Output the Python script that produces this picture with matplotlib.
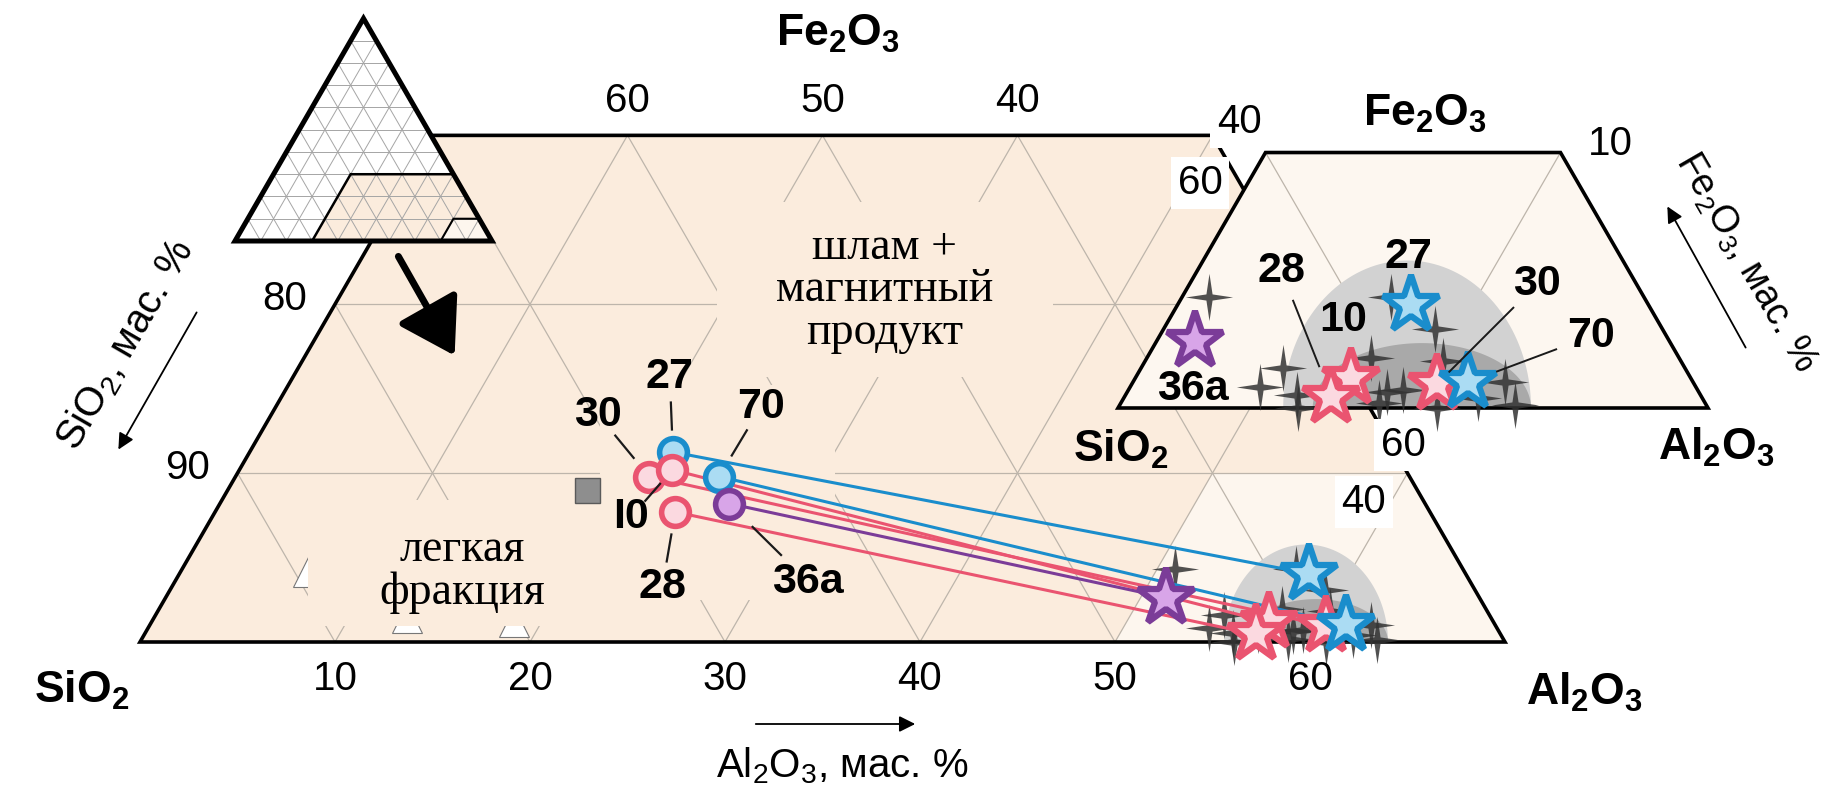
import matplotlib.pyplot as plt
import numpy as np
from matplotlib.patches import Polygon, Rectangle

plt.rcParams['font.family'] = ['Liberation Sans', 'DejaVu Sans']
plt.rcParams['mathtext.default'] = 'regular'

# samples, wt.% (SiO2 = 100 - Al2O3 - Fe2O3)
names = ['27', '30', '10', '70', '36a', '28']
main_names = ['27', '30', 'I0', '70', '36a', '28']
kinds = ['blue', 'pink', 'pink', 'blue', 'purple', 'pink']
# light-coloured circles: heavy product
circ_al = [21.7, 21.2, 22.2, 24.8, 26.1, 23.6]
circ_fe = [11.25, 9.8, 10.2, 9.8, 8.2, 7.7]
# stars: slime + magnetic product
star_al = [57.9, 60.35, 57.3, 61.35, 51.3, 57.0]
star_fe = [4.05, 0.95, 1.17, 1.0, 2.63, 0.45]
# grey crosses: other samples
cross_al = [50.9, 54.8, 54.4, 55.8, 57.6, 57.1, 59.2, 60.1, 58.8, 59.3,
            62.6, 62.0, 63.4, 57.0, 56.1, 60.8, 58.75]
cross_fe = [4.34, 1.57, 0.82, 0.51, 1.96, 4.34, 3.09, 1.84, 0.63, 0.70,
            1.02, 0.39, 0.12, 0.70, 0.0, 0.0, 0.2]
# grey square and light fraction (white triangles)
sq_al, sq_fe = [18.4], [9.0]
lf_al = [6.55, 13.0, 18.6]
lf_fe = [4.14, 1.42, 1.18]
# grey fields: centre, half width, height (in triangle units)
dome_u = [59.8, 60.3]
dome_w = [4.2, 3.7]
dome_h = [5.0, 2.2]
dome_c = ['#d2d2d2', '#a9a9a9']

bot_ticks = [10, 20, 30, 40, 50, 60]
top_ticks = [60, 50, 40]
left_ticks = [80, 90]

edge = {'blue': '#1a8dcc', 'pink': '#ea5470', 'purple': '#7b3c98'}
face = {'blue': '#abdcf3', 'pink': '#fbd9e0', 'purple': '#d8a5e8'}
PEACH = '#fbecdd'
LIGHT = '#fdf6ee'
GRID = '#bdb5ab'
NUM = 29     # tick numbers
LAB = 31     # bold sample labels
TIT = 32     # oxide names

S3 = np.sqrt(3) / 2
MAIN = dict(x0=140, y0=642, L=1950, a0=0)
INS = dict(x0=1118, y0=408, L=2950, a0=50)
MINI = dict(x0=235, y0=241, L=257, a0=0)


def tern(a, f, x0, y0, L, a0):
    a = np.asarray(a, float)
    f = np.asarray(f, float)
    return x0 + L / 100 * (a - a0 + f / 2), y0 - L / 100 * S3 * f


fig = plt.figure(figsize=(18.32, 7.92), dpi=100)
ax = fig.add_axes([0, 0, 1, 1])
ax.set_xlim(0, 1832)
ax.set_ylim(792, 0)
ax.axis('off')


def poly(pts, sys, **kw):
    a, f = zip(*pts)
    x, y = tern(a, f, **sys)
    ax.add_patch(Polygon(np.column_stack([x, y]), closed=True, **kw))


def seg(p, q, sys, **kw):
    x, y = tern([p[0], q[0]], [p[1], q[1]], **sys)
    ax.plot(x, y, solid_capstyle='butt', **kw)


def domes(sys, z):
    t = np.linspace(0, np.pi, 80)
    for u, w, h, c in zip(dome_u, dome_w, dome_h, dome_c):
        uu = u + w * np.cos(t)
        f = h * np.sin(t) / S3
        poly(list(zip(uu - f / 2, f)), sys, facecolor=c, edgecolor='none', zorder=z)


cross = [(0, 1), (0.13, 0.13), (1, 0), (0.13, -0.13), (0, -1), (-0.13, -0.13), (-1, 0),
         (-0.13, 0.13), (0, 1)]


def crosses(sys, z):
    x, y = tern(cross_al, cross_fe, **sys)
    ax.plot(x, y, ls='none', marker=cross, ms=34, mfc='#333333', mec='none', alpha=0.85, zorder=z)


def stars(sys, z):
    x, y = tern(star_al, star_fe, **sys)
    for xi, yi, k in zip(x, y, kinds):
        ax.plot(xi, yi, marker='*', ms=43, mfc=face[k], mec=edge[k], mew=4.5, zorder=z)
    return x, y


# ---------------- main diagram ----------------
poly([(0, 0), (0, 30), (40, 30), (70, 0)], MAIN, facecolor=PEACH, edgecolor='none', zorder=1)
poly([(50, 0), (50, 10), (60, 10), (70, 0)], MAIN, facecolor=LIGHT, edgecolor='none', zorder=1.1)
gk = dict(color=GRID, lw=0.9, zorder=1.5)
seg((0, 10), (60, 10), MAIN, **gk)
seg((0, 20), (50, 20), MAIN, **gk)
for k in range(10, 70, 10):
    seg((k, 0), (k, min(30, 70 - k)), MAIN, **gk)
for s in range(40, 100, 10):
    ft = min(30, 100 - s)
    seg((100 - s, 0), (100 - s - ft, ft), MAIN, **gk)

x, y = tern(lf_al, lf_fe, **MAIN)
ax.plot(x, y, ls='none', marker='^', ms=22, mfc='white', mec='#777777', mew=0.8, zorder=1.8)

# background patches under the text blocks
for rx, ry, rw, rh in [(717, 202, 336, 175), (308, 500, 310, 126), (600, 385, 235, 215)]:
    ax.add_patch(Rectangle((rx, ry), rw, rh, facecolor=PEACH, edgecolor='none', zorder=2))

domes(MAIN, 2.05)
poly([(0, 0), (0, 30), (40, 30), (70, 0)], MAIN, fill=False, edgecolor='black', lw=2.6,
     joinstyle='miter', zorder=2.1)
crosses(MAIN, 2.4)

cx, cy = tern(circ_al, circ_fe, **MAIN)
sx, sy = tern(star_al, star_fe, **MAIN)
for i, k in enumerate(kinds):
    ax.plot([cx[i], sx[i]], [cy[i], sy[i]], color=edge[k], lw=2.2, zorder=2.6)
stars(MAIN, 3)
for i, k in enumerate(kinds):
    ax.plot(cx[i], cy[i], 'o', ms=20, mfc=face[k], mec=edge[k], mew=4, zorder=3)
x, y = tern(sq_al, sq_fe, **MAIN)
ax.plot(x, y, 's', ms=18, mfc='#8e8e8e', mec='#5a5a5a', mew=1, zorder=3)

main_off = {'27': (-3, -75), '30': (-51, -62), 'I0': (-41, 47), '70': (42, -70),
            '36a': (79, 78), '28': (-13, 75)}
for i, n in enumerate(main_names):
    dx, dy = main_off[n]
    ax.plot([cx[i] + 0.3 * dx, cx[i] + 0.66 * dx], [cy[i] + 0.3 * dy, cy[i] + 0.66 * dy],
            color='#1a1a1a', lw=1.6, zorder=3.1)
    ax.text(cx[i] + dx, cy[i] + dy, n, fontsize=LAB, fontweight='bold', ha='center',
            va='center', zorder=3.2)

ax.text(885, 290, 'шлам +\nмагнитный\nпродукт', family='Liberation Serif', fontsize=33,
        ha='center', va='center', linespacing=1.0, zorder=3.2)
ax.text(462, 571, 'легкая\nфракция', family='Liberation Serif', fontsize=33,
        ha='center', va='center', linespacing=1.0, zorder=3.2)

for t in bot_ticks:
    x, y = tern(t, 0, **MAIN)
    ax.text(x, y + 37, str(t), fontsize=NUM, ha='center', va='center')
for t in top_ticks:
    x, y = tern(100 - t - 30, 30, **MAIN)
    ax.text(x, y - 34, str(t), fontsize=NUM, ha='center', va='center')
for t in left_ticks:
    x, y = tern(0, 100 - t, **MAIN)
    ax.text(x - 50, y - 5, str(t), fontsize=NUM, ha='center', va='center')
ax.text(1239, 122, '40', fontsize=NUM, ha='center', va='center', zorder=6,
        bbox=dict(facecolor='white', edgecolor='none', pad=5))

ax.text(838, 34, 'Fe$_2$O$_3$', fontsize=TIT, fontweight='bold', ha='center', va='center')
ax.text(82, 690, 'SiO$_2$', fontsize=TIT, fontweight='bold', ha='center', va='center')
ax.text(1584, 692, 'Al$_2$O$_3$', fontsize=TIT, fontweight='bold', ha='center', va='center')

ak = dict(arrowstyle='-|>', lw=1.3, color='black', mutation_scale=24)
ax.annotate('', xy=(918, 724), xytext=(753, 724), arrowprops=ak)
ax.text(842, 766, 'Al$_2$O$_3$, мас. %', fontsize=29, ha='center', va='center')
ax.annotate('', xy=(117, 452), xytext=(198, 310), arrowprops=ak)
ax.text(125, 345, 'SiO$_2$, мас. %', fontsize=29, ha='center', va='center', rotation=60,
        rotation_mode='anchor')
ax.annotate('', xy=(1666, 204), xytext=(1747, 350), arrowprops=ak)
ax.text(1746, 262, 'Fe$_2$O$_3$, мас. %', fontsize=27, ha='center', va='center', rotation=-60,
        rotation_mode='anchor')

# ---------------- enlarged inset ----------------
poly([(50, 0), (50, 10), (60, 10), (70, 0)], INS, facecolor='#fdf7f0', edgecolor='none', zorder=4)
seg((60, 0), (50, 10), INS, color=GRID, lw=0.9, zorder=4.1)
seg((60, 0), (60, 10), INS, color=GRID, lw=0.9, zorder=4.1)
domes(INS, 4.2)
poly([(50, 0), (50, 10), (60, 10), (70, 0)], INS, fill=False, edgecolor='black', lw=2.6,
     joinstyle='miter', zorder=4.3)
crosses(INS, 4.4)
ix, iy = stars(INS, 4.6)

ins_off = {'27': (-2, -48, None), '10': (-7, -58, None), '28': (-50, -126, (0.24, 0.76)),
           '30': (100, -100, (0.12, 0.76)), '70': (123, -46, (0.24, 0.72)), '36a': (-2, 48, None)}
for i, n in enumerate(names):
    dx, dy, ld = ins_off[n]
    if ld:
        ax.plot([ix[i] + ld[0] * dx, ix[i] + ld[1] * dx], [iy[i] + ld[0] * dy, iy[i] + ld[1] * dy],
                color='#1a1a1a', lw=1.4, zorder=4.7)
    ax.text(ix[i] + dx, iy[i] + dy, n, fontsize=LAB, fontweight='bold', ha='center',
            va='center', zorder=5)

ax.text(1425, 114, 'Fe$_2$O$_3$', fontsize=TIT, fontweight='bold', ha='center', va='center')
ax.text(1121, 449, 'SiO$_2$', fontsize=TIT, fontweight='bold', ha='center', va='center', zorder=6)
ax.text(1716, 447, 'Al$_2$O$_3$', fontsize=TIT, fontweight='bold', ha='center', va='center')
ax.text(1610, 144, '10', fontsize=NUM, ha='center', va='center')
wb = dict(facecolor='white', edgecolor='none', pad=5)
ax.text(1200, 183, '60', fontsize=NUM, ha='center', va='center', zorder=6, bbox=wb)
ax.text(1403, 445, '60', fontsize=NUM, ha='center', va='center', zorder=6, bbox=wb)
ax.text(1364, 502, '40', fontsize=NUM, ha='center', va='center', zorder=6, bbox=wb)

# ---------------- small key triangle ----------------
poly([(0, 0), (0, 100), (100, 0)], MINI, facecolor='white', edgecolor='none', zorder=7)
poly([(30, 0), (30, 30), (70, 30), (100, 0)], MINI, facecolor=PEACH, edgecolor='none', zorder=7.1)
poly([(80, 0), (80, 10), (90, 10), (100, 0)], MINI, facecolor=LIGHT, edgecolor='none', zorder=7.2)
for k in range(10, 100, 10):
    mk = dict(color='#a5a5a5', lw=0.7, zorder=7.3)
    seg((0, k), (100 - k, k), MINI, **mk)
    seg((k, 0), (k, 100 - k), MINI, **mk)
    seg((100 - k, 0), (0, 100 - k), MINI, **mk)
poly([(30, 0), (30, 30), (70, 30), (100, 0)], MINI, fill=False, edgecolor='black', lw=1.8, zorder=7.4)
poly([(80, 0), (80, 10), (90, 10), (100, 0)], MINI, fill=False, edgecolor='black', lw=1.5, zorder=7.4)
poly([(0, 0), (0, 100), (100, 0)], MINI, fill=False, edgecolor='black', lw=3.6,
     joinstyle='miter', zorder=7.5)
ax.annotate('', xy=(456, 358), xytext=(397, 254),
            arrowprops=dict(arrowstyle='-|>,head_length=0.8,head_width=0.5', lw=5,
                            color='black', mutation_scale=42), zorder=8)

fig.savefig('out.png', dpi=100, facecolor='white')
